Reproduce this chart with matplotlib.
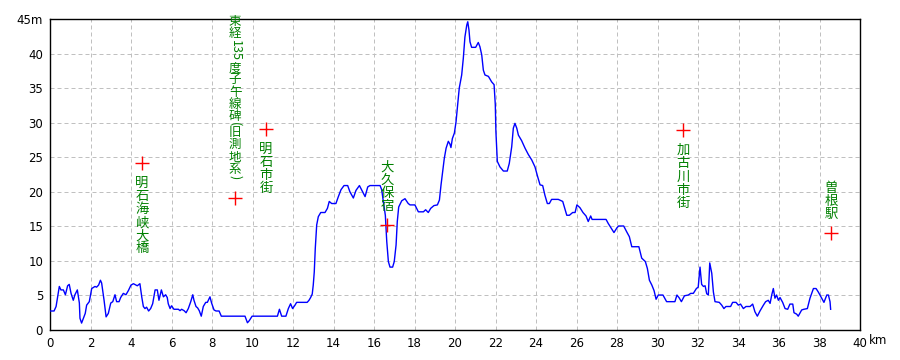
import matplotlib
matplotlib.use("Agg")
import matplotlib.pyplot as plt
from matplotlib import font_manager

# ---------------- data ----------------
dist_km = [0.0, 0.2, 0.3, 0.46, 0.54, 0.66, 0.76, 0.87, 0.95, 1.04, 1.15, 1.23, 1.35, 1.45, 1.48, 1.56,
           1.65, 1.74, 1.81, 1.94, 2.06, 2.22, 2.3, 2.4, 2.49, 2.55, 2.67, 2.77, 2.88, 3.0, 3.1, 3.21,
           3.29, 3.41, 3.49, 3.62, 3.75, 3.87, 4.0, 4.12, 4.25, 4.31, 4.44, 4.53, 4.61, 4.69, 4.77, 4.87,
           4.97, 5.07, 5.19, 5.3, 5.38, 5.5, 5.6, 5.71, 5.79, 5.84, 5.93, 6.0, 6.12, 6.34, 6.42, 6.5,
           6.62, 6.72, 6.83, 6.95, 7.05, 7.11, 7.21, 7.29, 7.37, 7.47, 7.57, 7.69, 7.77, 7.9, 7.98, 8.1,
           8.2, 8.35, 8.46, 9.63, 9.75, 9.84, 9.98, 11.23, 11.33, 11.44, 11.65, 11.77, 11.88, 11.98, 12.1, 12.18,
           12.7, 12.79, 12.87, 12.95, 13.0, 13.05, 13.1, 13.17, 13.25, 13.37, 13.58, 13.7, 13.79, 13.91, 14.12, 14.24,
           14.37, 14.52, 14.7, 14.81, 14.98, 15.11, 15.28, 15.44, 15.56, 15.69, 15.8, 16.3, 16.38, 16.46, 16.56, 16.63,
           16.71, 16.79, 16.92, 17.0, 17.09, 17.15, 17.22, 17.37, 17.53, 17.69, 17.78, 18.02, 18.19, 18.44, 18.55, 18.68,
           18.8, 18.96, 19.13, 19.23, 19.31, 19.39, 19.47, 19.56, 19.67, 19.75, 19.8, 19.87, 19.97, 20.05, 20.13, 20.21,
           20.33, 20.41, 20.49, 20.58, 20.63, 20.69, 20.74, 20.82, 21.02, 21.15, 21.23, 21.32, 21.4, 21.48, 21.65, 21.81,
           21.93, 21.99, 22.02, 22.09, 22.22, 22.39, 22.58, 22.68, 22.8, 22.88, 22.96, 23.05, 23.13, 23.29, 23.46, 23.62,
           23.79, 23.95, 24.08, 24.2, 24.33, 24.44, 24.56, 24.66, 24.77, 25.1, 25.32, 25.52, 25.65, 25.81, 25.93, 26.02,
           26.17, 26.32, 26.47, 26.58, 26.7, 26.77, 27.46, 27.57, 27.74, 27.85, 28.0, 28.08, 28.33, 28.48, 28.61, 28.73,
           29.08, 29.22, 29.4, 29.5, 29.6, 29.72, 29.83, 29.93, 30.04, 30.27, 30.45, 30.86, 30.96, 31.07, 31.18, 31.33,
           31.52, 31.64, 31.77, 31.92, 32.01, 32.1, 32.18, 32.27, 32.35, 32.43, 32.51, 32.58, 32.68, 32.76, 32.84, 33.05,
           33.17, 33.28, 33.38, 33.61, 33.71, 33.88, 33.99, 34.1, 34.24, 34.37, 34.57, 34.7, 34.81, 34.93, 35.06, 35.23,
           35.34, 35.47, 35.56, 35.64, 35.72, 35.8, 35.88, 35.97, 36.05, 36.18, 36.3, 36.43, 36.54, 36.68, 36.74, 36.87,
           36.95, 37.12, 37.23, 37.4, 37.53, 37.7, 37.83, 37.94, 38.11, 38.22, 38.36, 38.44, 38.52, 38.55]
elev_m = [2.75, 2.75, 3.4, 6.3, 5.8, 5.8, 5.1, 6.4, 6.6, 5.3, 4.3, 5.1, 5.8, 3.9, 1.7, 1.0,
          1.7, 2.4, 3.6, 4.1, 6.0, 6.3, 6.2, 6.5, 7.2, 6.8, 4.3, 1.9, 2.4, 3.9, 4.1, 5.1,
          4.1, 4.1, 4.7, 5.3, 5.1, 5.7, 6.5, 6.7, 6.5, 6.4, 6.7, 4.8, 3.4, 3.1, 3.3, 2.75,
          3.1, 3.8, 5.8, 5.8, 4.3, 5.8, 4.8, 5.1, 4.7, 3.8, 3.1, 3.5, 3.0, 3.0, 2.8, 3.0,
          2.8, 2.5, 3.1, 4.1, 5.1, 4.3, 3.4, 3.2, 2.8, 2.0, 3.4, 4.0, 4.0, 4.8, 3.9, 2.9,
          2.75, 2.75, 2.0, 2.0, 1.05, 1.35, 2.0, 2.0, 3.0, 2.0, 2.0, 3.1, 3.8, 3.1, 3.6, 4.0,
          4.0, 4.3, 4.7, 5.2, 6.5, 8.4, 11.8, 15.2, 16.4, 17.0, 17.0, 17.6, 18.6, 18.3, 18.3, 19.3,
          20.3, 20.9, 20.9, 20.0, 19.1, 20.2, 20.9, 20.0, 19.3, 20.7, 20.9, 20.9, 20.3, 18.6, 16.6, 12.8,
          9.9, 9.1, 9.1, 9.9, 12.3, 15.7, 17.8, 18.7, 19.0, 18.3, 18.1, 18.1, 17.1, 17.1, 17.4, 17.0,
          17.6, 18.0, 18.1, 18.8, 21.0, 22.9, 24.8, 26.3, 27.3, 26.9, 26.4, 27.7, 28.5, 30.1, 32.6, 35.0,
          36.9, 39.3, 42.4, 44.1, 44.6, 43.4, 41.7, 40.9, 40.9, 41.6, 41.0, 39.8, 37.6, 36.9, 36.7, 35.9,
          35.5, 32.6, 28.7, 24.4, 23.6, 23.0, 23.0, 24.1, 26.5, 29.2, 29.9, 29.2, 28.2, 27.4, 26.3, 25.4,
          24.6, 23.6, 22.2, 21.0, 20.9, 19.5, 18.3, 18.3, 18.9, 18.9, 18.6, 16.6, 16.6, 17.0, 17.0, 18.1,
          17.7, 17.0, 16.5, 15.7, 16.5, 16.0, 16.0, 15.4, 14.6, 14.1, 14.8, 15.05, 15.05, 14.2, 13.5, 12.05,
          12.05, 10.4, 9.9, 8.9, 7.2, 6.5, 5.7, 4.45, 5.06, 5.06, 4.1, 4.1, 5.06, 4.65, 4.1, 4.95,
          5.06, 5.3, 5.3, 6.0, 6.2, 9.1, 6.6, 6.3, 6.4, 5.25, 5.06, 9.7, 8.2, 5.5, 4.1, 4.0,
          3.6, 3.1, 3.4, 3.4, 4.0, 4.0, 3.6, 3.75, 3.1, 3.4, 3.4, 3.75, 2.65, 2.0, 2.75, 3.6,
          4.1, 4.3, 3.85, 5.06, 6.0, 4.6, 5.06, 4.3, 4.7, 4.0, 3.1, 3.0, 3.75, 3.75, 2.5, 2.3,
          2.0, 2.9, 3.0, 3.1, 4.6, 6.0, 6.0, 5.5, 4.6, 4.0, 5.06, 5.06, 4.1, 3.0]

landmark_names = ['明石海峡大橋', '東経135度子午線碑（旧測地系）', '明石市街', '大久保宿', '加古川市街', '曽根駅']
landmark_km = [4.54, 9.14, 10.67, 16.64, 31.26, 38.57]
landmark_m = [24.2, 19.1, 29.1, 15.2, 28.9, 14.0]
label_side = ['below', 'above', 'below', 'above', 'below', 'above']

x_ticks = list(range(0, 41, 2))
x_tick_labels = [str(v) for v in x_ticks]
y_ticks = list(range(0, 46, 5))
y_tick_labels = [str(v) for v in y_ticks[:-1]] + ['45m']

# ---------------- style ----------------
names = {f.name for f in font_manager.fontManager.ttflist}
tick_font = 'Liberation Sans Narrow' if 'Liberation Sans Narrow' in names else 'DejaVu Sans'
tick_size = 9.5 if tick_font == 'Liberation Sans Narrow' else 8.5
cjk_font = ['Noto Sans CJK JP', 'DejaVu Sans']
GREEN = '#008000'

fig = plt.figure(figsize=(9, 3.6), dpi=100)
ax = fig.add_axes([50 / 900, 30 / 360, 810 / 900, 311 / 360])

ax.plot(dist_km, elev_m, color='#0000ff', lw=1.0, zorder=3)
ax.plot(landmark_km, landmark_m, linestyle='none', marker='+', color='#ff0000',
        markersize=9.5, markeredgewidth=1.0, zorder=4)

ax.set_xlim(0, 40)
ax.set_ylim(0, 45)
ax.set_xticks(x_ticks)
ax.set_xticklabels(x_tick_labels)
ax.set_yticks(y_ticks)
ax.set_yticklabels(y_tick_labels)
ax.tick_params(length=0, labelsize=tick_size, pad=5)
for lab in ax.get_xticklabels() + ax.get_yticklabels():
    lab.set_family(tick_font)
ax.grid(True, color='#c0c0c0', linestyle=(0, (4, 3)), linewidth=0.72)
for sp in ax.spines.values():
    sp.set_linewidth(1.0)
    sp.set_color('black')

ax.annotate('km', xy=(1, 0), xycoords='axes fraction', xytext=(9, -10),
            textcoords='offset pixels', ha='left', va='center',
            fontsize=tick_size, family=tick_font, annotation_clip=False)

renderer = fig.canvas.get_renderer()


def split_runs(s):
    """Split a label into runs: stacked CJK runs and sideways (rotated) runs."""
    runs = []
    for ch in s:
        if ch.isdigit():
            kind, c = 'side', ch
        elif ch in '（）':
            kind, c = 'paren', '(' if ch == '（' else ')'
        else:
            kind, c = 'cjk', ch
        if runs and runs[-1][0] == kind and kind != 'paren':
            runs[-1][1].append(c)
        else:
            runs.append((kind, [c]))
    return runs


def vertical_text(x, y, s, side, gap=14, size=9.6):
    blocks = []
    for kind, chars in split_runs(s):
        if kind == 'cjk':
            txt, rot = '\n'.join(chars), 0
        else:
            txt, rot = ''.join(chars), -90
        t = ax.annotate(txt, xy=(x, y), xytext=(0, 0), textcoords='offset pixels',
                        ha='center', va='center', rotation=rot, linespacing=0.92,
                        multialignment='center', color=GREEN, fontsize=size,
                        family=cjk_font, annotation_clip=False, zorder=5)
        h = t.get_window_extent(renderer).height
        if kind == 'paren':
            h *= 0.75
        blocks.append((t, h))
    total = sum(h for _, h in blocks)
    cur = -gap if side == 'below' else gap + total
    for t, h in blocks:
        t.set_position((0, cur - h / 2))
        cur -= h


for name, kx, my, side in zip(landmark_names, landmark_km, landmark_m, label_side):
    if name.startswith('東経'):
        vertical_text(kx, my, name, side, gap=19, size=9.0)
    else:
        vertical_text(kx, my, name, side, gap=(12 if side == 'above' else 13))

fig.savefig('out.png', dpi=100)
